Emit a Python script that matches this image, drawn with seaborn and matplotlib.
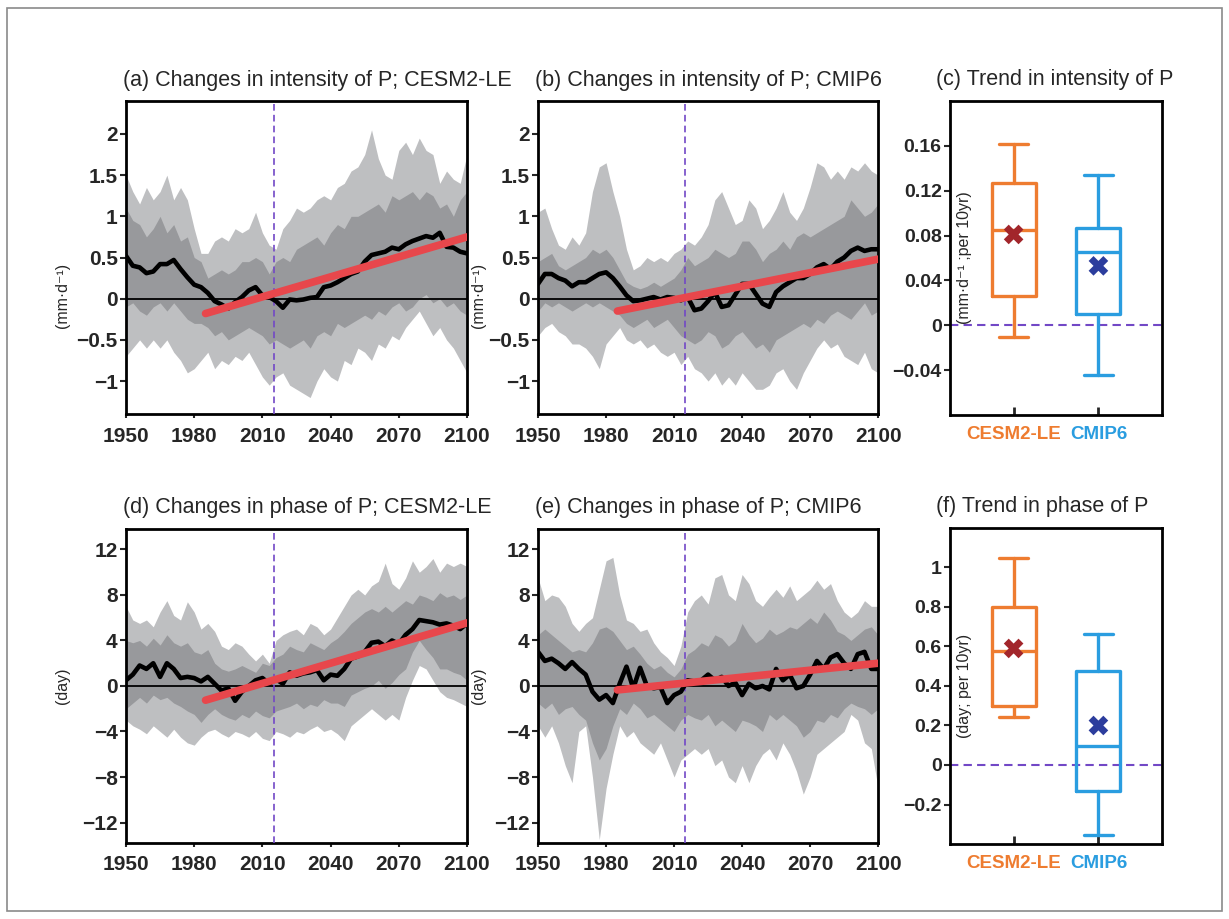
import numpy as np
import pandas as pd
import matplotlib
matplotlib.use("Agg")
import matplotlib.pyplot as plt
from matplotlib.patches import Rectangle
import seaborn as sns

# ---------------------------------------------------------------- data
years = np.arange(1950, 2101, 3)          # 1950, 1953, ..., 2100
trend_years = [1985, 2100]
year_ticks = [1950, 1980, 2010, 2040, 2070, 2100]
year_labels = ["1950", "1980", "2010", "2040", "2070", "2100"]

# (a) intensity of P, CESM2-LE (mm/d)
a_mean = [0.52, 0.40, 0.38, 0.31, 0.33, 0.42, 0.42, 0.47, 0.36, 0.26,
          0.17, 0.14, 0.07, -0.03, -0.07, -0.12, -0.04, 0.02, 0.10, 0.14,
          0.04, 0.02, -0.03, -0.11, -0.01, -0.02, -0.01, 0.01, 0.02, 0.14,
          0.16, 0.20, 0.25, 0.30, 0.33, 0.45, 0.53, 0.55, 0.57, 0.62,
          0.60, 0.66, 0.70, 0.73, 0.76, 0.74, 0.80, 0.63, 0.62, 0.57,
          0.55]
a_dark_hi = [1.10, 0.95, 0.90, 0.75, 0.85, 1.00, 0.80, 0.90, 0.70, 0.75,
             0.50, 0.45, 0.25, 0.30, 0.35, 0.30, 0.35, 0.45, 0.45, 0.50,
             0.45, 0.30, 0.45, 0.50, 0.45, 0.60, 0.65, 0.70, 0.75, 0.65,
             0.80, 0.90, 0.85, 1.00, 1.00, 1.05, 1.10, 1.15, 1.05, 1.25,
             1.20, 1.25, 1.30, 1.20, 1.30, 1.25, 1.10, 1.15, 1.00, 1.20,
             1.30]
a_dark_lo = [-0.10, -0.05, -0.15, -0.20, -0.10, -0.05, -0.15, -0.05, -0.15, -0.25,
             -0.30, -0.30, -0.35, -0.45, -0.40, -0.50, -0.45, -0.40, -0.35, -0.40,
             -0.45, -0.55, -0.50, -0.55, -0.60, -0.55, -0.50, -0.60, -0.45, -0.40,
             -0.45, -0.30, -0.35, -0.30, -0.25, -0.20, -0.25, -0.15, -0.20, -0.10,
             -0.05, -0.15, -0.10, 0.00, 0.05, -0.05, 0.00, -0.10, -0.05, -0.15,
             -0.20]
a_light_hi = [1.50, 1.30, 1.15, 1.35, 1.20, 1.30, 1.50, 1.20, 1.35, 1.20,
              0.85, 0.55, 0.55, 0.70, 0.75, 0.70, 0.85, 0.80, 0.85, 1.05,
              0.80, 0.65, 0.60, 0.85, 0.95, 1.10, 1.05, 1.10, 1.20, 1.25,
              1.20, 1.35, 1.40, 1.55, 1.60, 1.75, 2.05, 1.70, 1.50, 1.45,
              1.80, 1.90, 1.75, 1.95, 1.80, 1.75, 1.40, 1.55, 1.45, 1.40,
              1.75]
a_light_lo = [-0.70, -0.60, -0.50, -0.60, -0.50, -0.60, -0.50, -0.65, -0.75, -0.90,
              -0.85, -0.75, -0.65, -0.85, -0.75, -0.80, -0.70, -0.75, -0.65, -0.80,
              -0.95, -1.05, -0.95, -0.90, -1.05, -1.10, -1.15, -1.20, -1.00, -0.85,
              -0.95, -1.00, -0.75, -0.80, -0.60, -0.65, -0.75, -0.55, -0.60, -0.45,
              -0.50, -0.35, -0.25, -0.15, -0.30, -0.45, -0.35, -0.50, -0.60, -0.75,
              -0.90]
a_trend = [-0.18, 0.75]

# (b) intensity of P, CMIP6 (mm/d)
b_mean = [0.18, 0.30, 0.30, 0.25, 0.22, 0.15, 0.20, 0.20, 0.25, 0.30,
          0.32, 0.25, 0.15, 0.04, -0.03, -0.02, 0.00, 0.02, -0.01, 0.02,
          0.01, -0.02, 0.02, -0.14, -0.12, -0.03, 0.08, -0.10, -0.08, 0.05,
          0.18, 0.18, 0.06, -0.06, -0.10, 0.08, 0.15, 0.20, 0.25, 0.25,
          0.30, 0.38, 0.42, 0.36, 0.45, 0.50, 0.58, 0.62, 0.58, 0.60,
          0.60]
b_dark_hi = [0.45, 0.50, 0.55, 0.40, 0.35, 0.40, 0.45, 0.50, 0.60, 0.55,
             0.60, 0.50, 0.35, 0.20, 0.15, 0.12, 0.15, 0.20, 0.15, 0.20,
             0.25, 0.35, 0.50, 0.40, 0.45, 0.50, 0.60, 0.55, 0.50, 0.55,
             0.70, 0.70, 0.60, 0.45, 0.55, 0.60, 0.70, 0.60, 0.75, 0.80,
             0.75, 0.80, 0.85, 0.90, 0.95, 1.00, 1.20, 1.10, 1.00, 1.05,
             1.15]
b_dark_lo = [-0.15, -0.05, -0.10, -0.05, -0.10, -0.15, -0.10, -0.05, -0.10, -0.05,
             -0.10, -0.15, -0.20, -0.30, -0.35, -0.30, -0.25, -0.35, -0.30, -0.25,
             -0.35, -0.45, -0.50, -0.55, -0.50, -0.40, -0.45, -0.60, -0.55, -0.45,
             -0.40, -0.50, -0.60, -0.55, -0.65, -0.50, -0.45, -0.40, -0.35, -0.30,
             -0.35, -0.25, -0.30, -0.20, -0.15, -0.20, -0.25, -0.15, -0.05, -0.20,
             -0.15]
b_light_hi = [1.05, 1.10, 0.85, 0.65, 0.60, 0.75, 0.65, 0.80, 1.30, 1.60,
              1.65, 1.30, 1.00, 0.60, 0.35, 0.40, 0.50, 0.45, 0.50, 0.45,
              0.55, 0.60, 0.70, 0.65, 0.75, 0.90, 1.20, 1.30, 1.10, 0.90,
              0.95, 1.20, 1.10, 0.85, 0.95, 1.10, 1.30, 1.05, 0.95, 1.10,
              1.35, 1.65, 1.60, 1.45, 1.55, 1.45, 1.60, 1.55, 1.65, 1.55,
              1.50]
b_light_lo = [-0.45, -0.35, -0.30, -0.40, -0.45, -0.55, -0.55, -0.60, -0.70, -0.85,
              -0.55, -0.45, -0.35, -0.50, -0.55, -0.50, -0.60, -0.55, -0.65, -0.70,
              -0.65, -0.80, -0.70, -0.85, -0.90, -1.00, -0.90, -1.05, -0.95, -1.05,
              -0.90, -1.00, -1.10, -1.10, -1.05, -0.90, -0.85, -1.00, -1.10, -0.90,
              -0.75, -0.60, -0.50, -0.60, -0.55, -0.70, -0.75, -0.80, -0.65, -0.85,
              -0.90]
b_trend = [-0.15, 0.48]

# (d) phase of P, CESM2-LE (day)
d_mean = [0.5, 1.0, 1.8, 1.5, 2.0, 0.8, 2.0, 1.5, 0.7, 0.8,
          0.7, 0.4, 0.8, 0.2, -0.4, -0.2, -1.3, -0.5, 0.0, 0.5,
          0.7, 0.2, 0.6, 0.2, 1.2, 0.9, 1.1, 1.2, 1.4, 0.5,
          1.0, 0.9, 1.5, 2.4, 2.6, 3.0, 3.8, 3.9, 3.5, 4.0,
          3.7, 4.5, 5.0, 5.8, 5.7, 5.6, 5.4, 5.5, 5.3, 5.0,
          5.5]
d_dark_hi = [4.0, 3.8, 4.0, 3.5, 4.2, 3.6, 4.5, 3.8, 3.5, 3.8,
             3.0, 2.8, 3.2, 2.0, 1.5, 1.3, 1.5, 1.8, 1.5, 1.2,
             2.0, 1.8, 2.5, 2.8, 3.5, 3.2, 3.0, 3.8, 3.5, 3.2,
             3.8, 4.2, 4.8, 5.5, 6.0, 6.5, 6.8, 6.5, 7.0, 6.5,
             7.0, 7.5, 7.2, 8.0, 7.8, 7.5, 8.2, 7.8, 8.0, 7.6,
             8.0]
d_dark_lo = [-2.0, -1.5, -1.0, -1.5, -0.8, -1.2, -1.0, -1.5, -1.8, -2.2,
             -2.5, -3.2, -2.5, -2.0, -2.5, -2.8, -3.0, -2.5, -2.8, -2.2,
             -2.6, -2.8, -2.2, -2.0, -1.8, -1.5, -2.0, -1.6, -1.8, -1.2,
             -1.5, -1.5, -1.8, -0.8, -0.5, -0.2, 0.0, 0.5, -0.2, 0.3,
             1.0, 1.5, 3.0, 4.0, 3.2, 2.5, 1.5, 1.5, 1.2, 1.0,
             0.5]
d_light_hi = [7.0, 5.8, 5.5, 5.8, 5.2, 6.5, 7.5, 6.2, 5.8, 7.4,
              6.5, 5.0, 5.5, 4.8, 3.5, 3.2, 3.8, 3.5, 2.8, 2.2,
              2.8, 2.0, 4.0, 4.5, 4.8, 5.0, 4.5, 5.5, 5.2, 4.5,
              5.0, 6.0, 7.0, 8.0, 8.5, 8.0, 8.8, 9.2, 10.8, 9.0,
              8.5, 9.5, 11.0, 10.0, 10.5, 11.2, 10.0, 10.8, 10.5, 10.8,
              10.5]
d_light_lo = [-3.0, -3.5, -3.8, -4.2, -3.5, -4.0, -4.5, -3.8, -4.5, -5.0,
              -5.2, -4.5, -4.0, -3.8, -4.2, -4.5, -4.0, -4.2, -4.5, -4.0,
              -4.6, -4.8, -4.0, -4.2, -4.5, -4.0, -4.2, -3.8, -3.5, -4.0,
              -3.8, -4.2, -4.8, -3.5, -3.0, -2.5, -2.0, -2.5, -3.0, -2.5,
              -3.0, -1.0, 0.5, 1.8, 1.5, 0.5, -0.5, -1.0, -1.2, -1.5,
              -1.8]
d_trend = [-1.25, 5.55]

# (e) phase of P, CMIP6 (day)
e_mean = [3.0, 2.2, 2.4, 2.0, 1.5, 2.1, 1.5, 1.0, -0.5, -1.2,
          -0.8, -1.5, 0.2, 1.7, -0.2, 1.6, 0.0, -0.2, -0.1, -1.5,
          -0.8, -0.5, 0.5, 0.4, 0.5, 1.0, 0.5, 0.8, 0.0, 0.3,
          -0.8, 0.2, -0.2, 0.0, -0.3, 1.5, 0.5, 1.0, -0.2, 0.0,
          1.0, 2.2, 1.5, 2.5, 2.8, 2.0, 1.5, 2.8, 3.0, 1.5,
          1.5]
e_dark_hi = [4.5, 5.0, 4.5, 4.0, 3.5, 3.0, 3.2, 3.0, 3.8, 5.0,
             5.2, 4.8, 4.0, 3.2, 3.5, 2.8, 2.0, 1.5, 1.8, 1.2,
             0.8, 1.5, 2.8, 3.2, 3.8, 3.5, 4.5, 4.2, 3.5, 4.0,
             5.5, 4.5, 3.8, 4.2, 5.0, 4.5, 4.8, 5.2, 5.0, 5.5,
             6.0, 5.5, 6.5, 5.8, 4.8, 4.5, 4.0, 4.5, 5.0, 5.2,
             4.5]
e_dark_lo = [-1.5, -2.0, -1.5, -2.5, -2.0, -1.8, -2.5, -3.0, -5.0, -6.5,
             -5.5, -3.5, -2.0, -2.5, -1.5, -2.0, -2.8, -2.5, -3.0, -3.5,
             -4.0, -3.0, -2.5, -2.8, -3.0, -2.5, -3.5, -3.0, -3.5, -4.0,
             -3.0, -3.2, -3.5, -4.0, -2.5, -3.0, -2.5, -3.0, -3.5, -4.5,
             -4.0, -3.0, -3.2, -2.5, -2.8, -2.0, -1.5, -1.8, -2.0, -2.5,
             -2.0]
e_light_hi = [9.5, 7.5, 8.0, 7.8, 7.0, 5.5, 4.8, 5.5, 6.0, 8.5,
              11.0, 11.3, 8.0, 5.8, 5.5, 4.8, 5.0, 3.8, 3.0, 2.5,
              1.8, 3.5, 6.5, 7.5, 8.0, 7.2, 9.5, 9.8, 8.0, 7.5,
              9.8, 9.0, 7.5, 7.0, 7.8, 8.5, 7.8, 8.8, 7.5, 8.0,
              8.5, 9.3, 8.5, 9.0, 7.5, 6.5, 6.0, 6.5, 7.5, 7.0,
              7.0]
e_light_lo = [-3.5, -4.5, -3.5, -5.0, -7.0, -8.5, -4.0, -3.5, -8.0, -13.5,
              -9.0, -6.0, -3.5, -4.5, -4.0, -5.0, -5.5, -6.0, -5.0, -6.5,
              -8.0, -6.5, -6.0, -5.5, -6.0, -5.5, -7.0, -6.5, -8.0, -8.5,
              -7.0, -8.5, -7.0, -6.0, -5.5, -6.5, -5.0, -6.0, -7.5, -9.5,
              -8.0, -6.0, -5.5, -5.0, -4.5, -4.0, -2.5, -3.0, -5.0, -5.5,
              -9.0]
e_trend = [-0.35, 2.00]

# trend box statistics (per 10 yr)
models = ["CESM2-LE", "CMIP6"]
c_whislo = [-0.010, -0.044]
c_q1 = [0.026, 0.010]
c_med = [0.085, 0.065]
c_q3 = [0.127, 0.087]
c_whishi = [0.162, 0.134]
c_mean = [0.081, 0.053]

f_whislo = [0.242, -0.355]
f_q1 = [0.300, -0.132]
f_med = [0.575, 0.098]
f_q3 = [0.800, 0.477]
f_whishi = [1.047, 0.663]
f_mean = [0.590, 0.200]

int_ticks = [-1, -0.5, 0, 0.5, 1, 1.5, 2]
int_labels = ["\u22121", "\u22120.5", "0", "0.5", "1", "1.5", "2"]
day_ticks = [-12, -8, -4, 0, 4, 8, 12]
day_labels = ["\u221212", "\u22128", "\u22124", "0", "4", "8", "12"]
c_ticks = [-0.04, 0, 0.04, 0.08, 0.12, 0.16]
c_labels = ["\u22120.04", "0", "0.04", "0.08", "0.12", "0.16"]
f_ticks = [-0.2, 0, 0.2, 0.4, 0.6, 0.8, 1]
f_labels = ["\u22120.2", "0", "0.2", "0.4", "0.6", "0.8", "1"]

# ---------------------------------------------------------------- style
LIGHT = "#bebfc1"
DARK = "#98999c"
RED = "#e8474c"
PURPLE = "#7248c6"
BOX_COLORS = ["#ee7c30", "#2a9de0"]
MEAN_COLORS = ["#a2262b", "#2c3d9d"]

sns.set_theme(style="ticks")
plt.rcParams["font.family"] = ["Liberation Sans", "DejaVu Sans"]
plt.rcParams["axes.unicode_minus"] = True
plt.rcParams["axes.linewidth"] = 2.0

fig = plt.figure(figsize=(12.29, 9.19), dpi=100)
fig.patches.append(Rectangle((7 / 1229, 8 / 919), 1215 / 1229, 903 / 919,
                             transform=fig.transFigure, fill=False,
                             edgecolor="#8a8a8a", lw=1.2))


def style_frame(ax):
    for s in ax.spines.values():
        s.set_visible(True)
        s.set_linewidth(2.0)
        s.set_color("black")


def series_panel(rect, mean, dlo, dhi, llo, lhi, trend, ylim, yticks, ylabels,
                 title, ylabel, ylabel_x, ylabel_y):
    ax = fig.add_axes(rect)
    ax.fill_between(years, llo, lhi, color=LIGHT, lw=0, zorder=1)
    ax.fill_between(years, dlo, dhi, color=DARK, lw=0, zorder=2)
    ax.axhline(0, color="black", lw=1.3, zorder=3)
    ax.axvline(2015, color=PURPLE, lw=1.2, ls=(0, (4, 2.5)), zorder=3)
    sns.lineplot(x=years, y=mean, ax=ax, color="black", lw=3.3, zorder=4)
    sns.lineplot(x=trend_years, y=trend, ax=ax, color=RED, lw=5.5, zorder=5,
                 solid_capstyle="round")
    ax.set_xlim(1950, 2100)
    ax.set_ylim(*ylim)
    ax.set_xticks(year_ticks)
    ax.set_xticklabels(year_labels, fontsize=15, fontweight="bold")
    ax.set_yticks(yticks)
    ax.set_yticklabels(ylabels, fontsize=15, fontweight="bold")
    ax.tick_params(axis="x", direction="out", length=3, width=1.5, pad=6)
    ax.tick_params(axis="y", direction="out", length=4.5, width=1.5, pad=1.5)
    ax.set_xlabel("")
    ax.set_ylabel(ylabel, fontsize=11.5)
    ax.yaxis.set_label_coords(ylabel_x, ylabel_y)
    style_frame(ax)
    ax.text(-0.01, 1.067, title, transform=ax.transAxes, ha="left",
            va="center", fontsize=15.5)
    return ax


def box_panel(rect, whislo, q1, med, q3, whishi, means, ylim, yticks, ylabels,
              title, ylabel):
    ax = fig.add_axes(rect)
    stats = [dict(label=m, whislo=whislo[i], q1=q1[i], med=med[i], q3=q3[i],
                  whishi=whishi[i], fliers=[]) for i, m in enumerate(models)]
    ax.axhline(0, color=PURPLE, lw=1.5, ls=(0, (4, 2.5)), zorder=1)
    art = ax.bxp(stats, positions=[0, 1], widths=0.52, capwidths=0.34,
                 showfliers=False, manage_ticks=False)
    for i, col in enumerate(BOX_COLORS):
        art["boxes"][i].set(color=col, lw=2.4)
        art["medians"][i].set(color=col, lw=2.4)
        for k in (2 * i, 2 * i + 1):
            art["whiskers"][k].set(color=col, lw=2.4)
            art["caps"][k].set(color=col, lw=2.4)
    sns.scatterplot(x=[0, 1], y=means, hue=models, palette=MEAN_COLORS,
                    marker="X", s=200, linewidth=0, legend=False, ax=ax,
                    zorder=5)
    ax.set_xlim(-0.75, 1.75)
    ax.set_ylim(*ylim)
    ax.set_xticks([0, 1])
    ax.set_xticklabels(models, fontsize=13.5, fontweight="bold")
    for lab, col in zip(ax.get_xticklabels(), BOX_COLORS):
        lab.set_color(col)
    ax.set_yticks(yticks)
    ax.set_yticklabels(ylabels, fontsize=14, fontweight="bold")
    ax.tick_params(axis="x", direction="in", length=6, width=2, pad=8)
    ax.tick_params(axis="y", direction="out", length=4.5, width=1.5, pad=1.5)
    ax.set_xlabel("")
    ax.set_ylabel("")
    ax.text(0.07, 0.5, ylabel, transform=ax.transAxes, rotation=90,
            ha="center", va="center", fontsize=11.5)
    style_frame(ax)
    ax.text(-0.066, 1.067, title, transform=ax.transAxes, ha="left",
            va="center", fontsize=15.5)
    return ax


INT_LIM = (-1.4, 2.4)
DAY_LIM = (-13.8, 13.8)
MMD = "(mm\u00b7d\u207b\u00b9)"

series_panel([0.1025, 0.5495, 0.2775, 0.3406], a_mean, a_dark_lo, a_dark_hi,
             a_light_lo, a_light_hi, a_trend, INT_LIM, int_ticks, int_labels,
             "(a) Changes in intensity of P; CESM2-LE", MMD, -0.165, 0.38)
series_panel([0.4378, 0.5495, 0.2767, 0.3406], b_mean, b_dark_lo, b_dark_hi,
             b_light_lo, b_light_hi, b_trend, INT_LIM, int_ticks, int_labels,
             "(b) Changes in intensity of P; CMIP6", MMD, -0.153, 0.38)
box_panel([0.7730, 0.5484, 0.1725, 0.3417], c_whislo, c_q1, c_med, c_q3,
          c_whishi, c_mean, (-0.08, 0.2), c_ticks, c_labels,
          "(c) Trend in intensity of P", "(mm\u00b7d\u207b\u00b9 ;per 10yr)")

series_panel([0.1025, 0.0827, 0.2775, 0.3417], d_mean, d_dark_lo, d_dark_hi,
             d_light_lo, d_light_hi, d_trend, DAY_LIM, day_ticks, day_labels,
             "(d) Changes in phase of P; CESM2-LE", "(day)", -0.165, 0.50)
series_panel([0.4378, 0.0827, 0.2767, 0.3417], e_mean, e_dark_lo, e_dark_hi,
             e_light_lo, e_light_hi, e_trend, DAY_LIM, day_ticks, day_labels,
             "(e) Changes in phase of P; CMIP6", "(day)", -0.153, 0.50)
box_panel([0.7730, 0.0816, 0.1725, 0.3439], f_whislo, f_q1, f_med, f_q3,
          f_whishi, f_mean, (-0.4, 1.2), f_ticks, f_labels,
          "(f) Trend in phase of P", "(day; per 10yr)")

fig.savefig("out.png", dpi=100)
